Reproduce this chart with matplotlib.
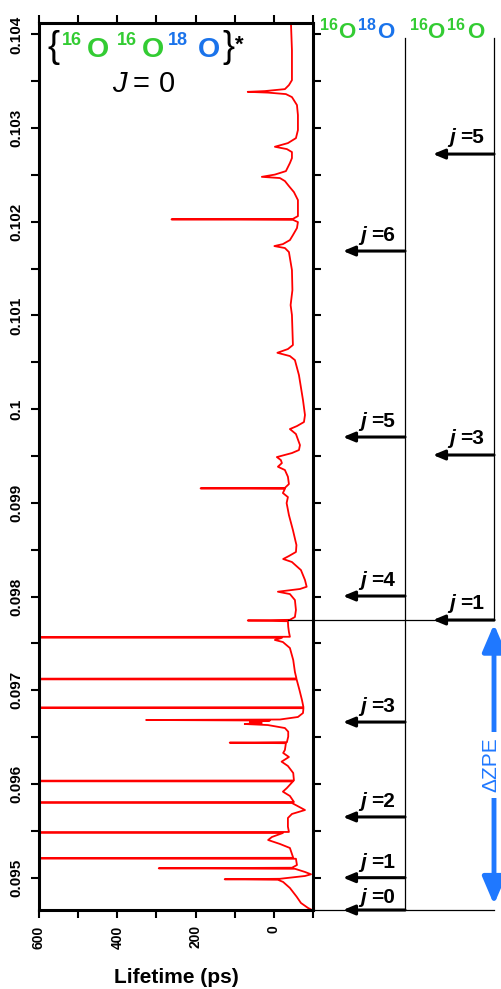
import matplotlib
matplotlib.use("Agg")
import matplotlib.pyplot as plt
from matplotlib.ticker import MultipleLocator
from matplotlib.patches import ArrowStyle

plt.rcParams['font.family'] = ['Liberation Sans', 'DejaVu Sans']
plt.rcParams['font.weight'] = 'bold'

# ---------------- data ----------------
energy = [
    0.104131, 0.103832, 0.103512, 0.103459, 0.103416, 0.103395, 0.103387, 0.103379, 0.103363, 0.103331,
    0.103246, 0.103139, 0.102979, 0.102893, 0.102840, 0.102801, 0.102776, 0.102744, 0.102680, 0.102627,
    0.102584, 0.102541, 0.102504, 0.102480, 0.102467, 0.102435, 0.102381, 0.102317, 0.102232, 0.102125,
    0.102061, 0.102031, 0.102026, 0.102021, 0.101997, 0.101933, 0.101858, 0.101805, 0.101762, 0.101741,
    0.101720, 0.101677, 0.101613, 0.101485, 0.101271, 0.101111, 0.101005, 0.100845, 0.100685, 0.100642,
    0.100602, 0.100567, 0.100524, 0.100364, 0.100098, 0.099938, 0.099863, 0.099820, 0.099788, 0.099735,
    0.099617, 0.099564, 0.099532, 0.099489, 0.099457, 0.099425, 0.099386, 0.099351, 0.099279, 0.099201,
    0.099160, 0.099155, 0.099150, 0.099105, 0.099062, 0.098998, 0.098870, 0.098710, 0.098550, 0.098476,
    0.098433, 0.098401, 0.098369, 0.098283, 0.098177, 0.098105, 0.098081, 0.098052, 0.098027, 0.097963,
    0.097857, 0.097782, 0.097752, 0.097745, 0.097737, 0.097678, 0.097622, 0.097571, 0.097565, 0.097560,
    0.097537, 0.097515, 0.097451, 0.097323, 0.097195, 0.097126, 0.097120, 0.097115, 0.097003, 0.096896,
    0.096819, 0.096814, 0.096809, 0.096757, 0.096715, 0.096688, 0.096683, 0.096677, 0.096661, 0.096651,
    0.096640, 0.096629, 0.096597, 0.096558, 0.096505, 0.096446, 0.096441, 0.096435, 0.096363, 0.096331,
    0.096288, 0.096238, 0.096192, 0.096117, 0.096037, 0.096032, 0.096027, 0.095957, 0.095918, 0.095872,
    0.095808, 0.095802, 0.095797, 0.095722, 0.095680, 0.095637, 0.095544, 0.095488, 0.095482, 0.095477,
    0.095434, 0.095402, 0.095360, 0.095317, 0.095212, 0.095207, 0.095202, 0.095135, 0.095106, 0.095100,
    0.095095, 0.095061, 0.095036, 0.095018, 0.094988, 0.094983, 0.094978, 0.094954, 0.094890, 0.094797,
    0.094730, 0.094677, 0.094655]

lifetime = [
    -43.6, -46.2, -46.2, -38.5, -28.2, 23.1, 66.7, 15.4, -30.8, -46.2,
    -59.0, -61.5, -61.5, -56.4, -35.9, -2.6, -33.3, -46.2, -46.2, -41.0,
    -35.9, -30.8, -2.6, 30.8, -15.4, -28.2, -38.5, -51.3, -61.5, -61.5,
    -61.5, -48.7, 261.5, -48.7, -61.5, -59.0, -48.7, -41.0, -23.1, -1.3,
    -28.2, -38.5, -41.0, -46.2, -47.4, -42.8, -46.2, -47.4, -48.7, -35.9,
    -9.0, -41.0, -53.8, -64.1, -74.4, -79.5, -76.9, -59.0, -41.0, -56.4,
    -66.7, -64.1, -46.2, -7.7, -17.9, -20.5, -10.3, -28.2, -35.9, -38.5,
    -28.2, 187.2, -28.2, -23.1, -35.9, -32.6, -38.5, -48.7, -57.7, -56.4,
    -38.5, -23.8, -46.2, -69.2, -79.5, -83.8, -66.7, -10.3, -41.0, -53.8,
    -56.4, -53.8, -41.0, 66.7, -35.9, -36.7, -38.5, -41.0, 2000, -20.5,
    -2.6, -23.1, -41.0, -49.5, -53.8, -57.7, 2000, -58.2, -65.4, -71.8,
    -75.6, 2000, -75.6, -74.4, -61.5, -15.4, 326.4, 10.3, 61.5, 30.8,
    74.4, 15.4, -28.2, -36.7, -36.7, -33.3, 112.8, -30.8, -28.2, -23.8,
    -38.5, -19.7, -35.9, -49.5, -51.3, 2000, -48.7, -33.3, -23.1, -41.0,
    -51.3, 2000, -46.2, -79.5, -46.2, -35.9, -35.9, -38.5, 2000, -23.1,
    5.1, 14.6, -15.4, -41.0, -49.5, 2000, -56.4, -59.0, -46.2, 294.1,
    -53.8, -79.5, -94.9, -79.5, -15.4, 125.6, -10.3, -23.8, -41.0, -58.2,
    -69.2, -87.2, -97.4]

# rotational levels of the diatomic fragments
o16o18_j = [0, 1, 2, 3, 4, 5, 6]
o16o18_E = [0.094655, 0.095000, 0.095648, 0.096661, 0.098006, 0.099703, 0.101688]
o16o16_j = [1, 3, 5]
o16o16_E = [0.097750, 0.099511, 0.102723]

xtick_vals = [600, 400, 200, 0]
xtick_labels = ['600', '400', '200', '0']
ytick_vals = [0.095, 0.096, 0.097, 0.098, 0.099, 0.100, 0.101, 0.102, 0.103, 0.104]
ytick_labels = ['0.095', '0.096', '0.097', '0.098', '0.099', '0.1', '0.101', '0.102', '0.103', '0.104']

GREEN = '#33cc33'
BLUE = '#1a73eb'
ZPE_BLUE = '#1f78ff'

# ---------------- figure ----------------
W, H = 501, 989
fig = plt.figure(figsize=(W / 100, H / 100), dpi=100)
L, R, T, B = 39, 313, 22.7, 910
ax = fig.add_axes([L / W, 1 - B / H, (R - L) / W, (B - T) / H])
ax.plot(lifetime, energy, color='#ff0000', lw=1.3, solid_joinstyle='round', zorder=2)
ax.set_xlim(600, -100)
ylim = (o16o18_E[0], 0.104125)
ax.set_ylim(*ylim)

ax.set_xticks(xtick_vals, xtick_labels, rotation=90, fontsize=10, fontweight='bold')
ax.set_yticks(ytick_vals, ytick_labels, rotation=90, va='center', fontsize=11, fontweight='bold')
ax.xaxis.set_minor_locator(MultipleLocator(100))
ax.yaxis.set_minor_locator(MultipleLocator(0.0005))
ax.tick_params(which='both', direction='out', length=6, width=1.5,
               top=True, right=True, labeltop=False, labelright=False, pad=5)
for sp in ax.spines.values():
    sp.set_linewidth(2.2)

ax.set_xlabel('Lifetime (ps)', fontsize=15, fontweight='bold', va='baseline')
ax.xaxis.set_label_coords(0.5, -(983 - B) / (B - T))

# ---------------- energy-level diagram overlay ----------------
ax2 = fig.add_axes([0, 1 - B / H, 1, (B - T) / H], zorder=3)
ax2.set_xlim(0, W)
ax2.set_ylim(*ylim)
ax2.axis('off')
ax2.patch.set_alpha(0)

top_E = 0.10396
x18, x16 = 405, 494
ax2.plot([x18, x18], [o16o18_E[0], top_E], color='k', lw=0.9, clip_on=False)
ax2.plot([x16, x16], [o16o16_E[0], top_E], color='k', lw=0.9, clip_on=False)
ax2.plot([R, x16], [o16o18_E[0], o16o18_E[0]], color='k', lw=0.9, clip_on=False)
ax2.plot([288, x16], [o16o16_E[0], o16o16_E[0]], color='k', lw=0.9, clip_on=False)

head = ArrowStyle('-|>', head_length=0.6, head_width=0.25)


def level_arrow(x_from, x_to, E, j, x_j, x_eq, dy):
    ax2.annotate('', xy=(x_to, E), xytext=(x_from, E),
                 arrowprops=dict(arrowstyle=head, mutation_scale=11.5, lw=2.2, color='k',
                                 shrinkA=0, shrinkB=0, clip_on=False),
                 annotation_clip=False)
    ax2.annotate('j', xy=(x_j, E), xytext=(0, dy), textcoords='offset pixels',
                 ha='left', va='baseline', fontsize=15, fontweight='bold', fontstyle='italic',
                 annotation_clip=False)
    ax2.annotate('=%d' % j, xy=(x_eq, E), xytext=(0, dy), textcoords='offset pixels',
                 ha='left', va='baseline', fontsize=15, fontweight='bold',
                 annotation_clip=False)


for j, E in zip(o16o18_j, o16o18_E):
    level_arrow(x18, 343, E, j, 360, 371, 7 if j == 0 else 10)
for j, E in zip(o16o16_j, o16o16_E):
    level_arrow(x16, 433, E, j, 449, 460, 11)

# Delta ZPE double arrow
ax2.annotate('', xy=(x16, o16o16_E[0]), xytext=(x16, o16o18_E[0]),
             arrowprops=dict(arrowstyle=ArrowStyle('<|-|>', head_length=0.75, head_width=0.32),
                             mutation_scale=22, lw=3.5, color=ZPE_BLUE,
                             shrinkA=4, shrinkB=3, clip_on=False),
             annotation_clip=False)
ax2.text(x16 - 3, (o16o16_E[0] + o16o18_E[0]) / 2, '\u0394ZPE', rotation=90, color=ZPE_BLUE,
         fontsize=15, fontweight='normal', ha='center', va='center',
         bbox=dict(boxstyle='square,pad=0.25', fc='white', ec='none'))


# ---------------- coloured labels ----------------
def piece(x, y, s, color, size, weight='bold', style='normal', ha='left'):
    fig.text(x / W, 1 - y / H, s, color=color, fontsize=size, fontweight=weight,
             fontstyle=style, ha=ha, va='baseline')


# {16O16O18O}*
piece(47, 57, '{', 'k', 26, weight='normal')
piece(62, 45, '16', GREEN, 13)
piece(98, 57, 'O', GREEN, 20.5, ha='center')
piece(117, 45, '16', GREEN, 13)
piece(153, 57, 'O', GREEN, 20.5, ha='center')
piece(168, 45, '18', BLUE, 13)
piece(209, 57, 'O', BLUE, 20.5, ha='center')
piece(222, 57, '}', 'k', 26, weight='normal')
piece(235, 51, '*', 'k', 16)
# J = 0
piece(112, 92, 'J', 'k', 21, weight='normal', style='italic')
piece(133, 92, '=', 'k', 21, weight='normal')
piece(159, 92, '0', 'k', 21, weight='normal')

# 16O18O and 16O16O column headers
piece(320, 30, '16', GREEN, 11.5)
piece(347, 38, 'O', GREEN, 16, ha='center')
piece(358, 30, '18', BLUE, 11.5)
piece(386, 38, 'O', BLUE, 16, ha='center')
piece(410, 30, '16', GREEN, 11.5)
piece(436, 38, 'O', GREEN, 16, ha='center')
piece(447, 30, '16', GREEN, 11.5)
piece(476, 38, 'O', GREEN, 16, ha='center')

fig.savefig('out.png', dpi=100)
